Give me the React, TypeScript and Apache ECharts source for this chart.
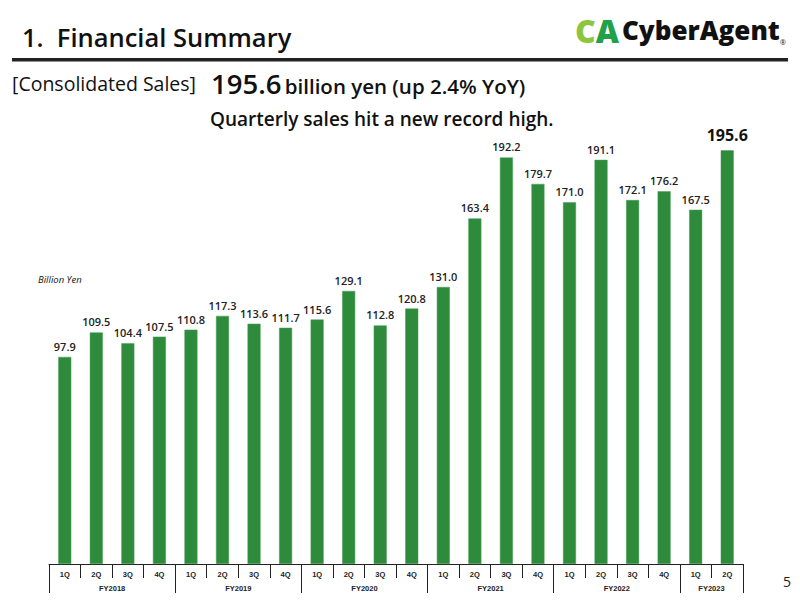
import React, { useEffect, useRef } from "react";
import * as echarts from "echarts";

// Quarterly consolidated sales, billion yen
const quarters = [
  "1Q", "2Q", "3Q", "4Q",
  "1Q", "2Q", "3Q", "4Q",
  "1Q", "2Q", "3Q", "4Q",
  "1Q", "2Q", "3Q", "4Q",
  "1Q", "2Q", "3Q", "4Q",
  "1Q", "2Q",
];
const sales = [
  97.9, 109.5, 104.4, 107.5,
  110.8, 117.3, 113.6, 111.7,
  115.6, 129.1, 112.8, 120.8,
  131.0, 163.4, 192.2, 179.7,
  171.0, 191.1, 172.1, 176.2,
  167.5, 195.6,
];
const fiscalYears = ["FY2018", "FY2019", "FY2020", "FY2021", "FY2022", "FY2023"];
const quartersPerYear = [4, 4, 4, 4, 4, 2];

const FONT = "'Open Sans', 'Noto Sans', sans-serif";
const AXIS_FONT = "Arial, 'Liberation Sans', sans-serif";
const BAR = "#2e8b3c";

export default function App() {
  const ref = useRef<HTMLDivElement>(null);

  useEffect(() => {
    if (!ref.current) return;
    const chart = echarts.init(ref.current, undefined, { renderer: "svg" });

    // year boundaries and centers on a 0..N value scale
    const bounds: number[] = [0];
    const centers: number[] = [];
    quartersPerYear.forEach((n) => {
      const start = bounds[bounds.length - 1];
      centers.push(start + n / 2);
      bounds.push(start + n);
    });
    const total = bounds[bounds.length - 1];

    const lastIdx = sales.length - 1;
    const data = sales.map((v, i) =>
      i === lastIdx
        ? {
            value: v,
            label: { fontSize: 16, fontWeight: 700, distance: 7, color: "#111" },
          }
        : v
    );

    chart.setOption({
      animation: false,
      backgroundColor: "#ffffff",
      grid: { left: 49, right: 57, top: 141, bottom: 36 },
      xAxis: [
        {
          type: "category",
          data: quarters,
          position: "bottom",
          axisLine: { show: true, lineStyle: { color: "#222", width: 1 } },
          axisTick: { show: true, interval: 0, length: 14, lineStyle: { color: "#222" } },
          axisLabel: {
            interval: 0,
            margin: 6,
            fontSize: 7.5,
            fontWeight: 700,
            color: "#222",
            fontFamily: AXIS_FONT,
          },
        },
        {
          type: "value",
          min: 0,
          max: total,
          position: "bottom",
          axisLine: { show: false },
          splitLine: { show: false },
          axisTick: {
            show: true,
            length: 29,
            customValues: bounds,
            lineStyle: { color: "#222" },
          },
          axisLabel: {
            show: true,
            margin: 20,
            customValues: centers,
            fontSize: 7.5,
            fontWeight: 700,
            color: "#222",
            fontFamily: AXIS_FONT,
            formatter: (val: number) => {
              const k = centers.findIndex((c) => Math.abs(c - val) < 1e-6);
              return k >= 0 ? fiscalYears[k] : "";
            },
          },
        },
      ],
      yAxis: {
        type: "value",
        min: 0,
        max: 200,
        show: false,
        splitLine: { show: false },
      },
      series: [
        {
          type: "bar",
          xAxisIndex: 0,
          data,
          barWidth: 13,
          itemStyle: { color: BAR, borderColor: "#4a9d56", borderWidth: 0.5 },
          label: {
            show: true,
            position: "top",
            distance: 5,
            fontSize: 11,
            fontWeight: 600,
            color: "#222",
            fontFamily: FONT,
            formatter: (p: any) => Number(p.value).toFixed(1),
          },
        },
      ],
      graphic: [
        {
          type: "text",
          left: 22,
          top: 24,
          style: {
            text: "1.  Financial Summary",
            fontSize: 25.5,
            fontWeight: 600,
            fontFamily: FONT,
            fill: "#111",
          },
        },
        {
          type: "rect",
          shape: { x: 12, y: 58, width: 776, height: 3.5 },
          style: { fill: "#222" },
        },
        // logo
        {
          type: "text",
          left: 575,
          top: 14,
          style: {
            text: "{c|C}{a|A}",
            rich: {
              c: { fontSize: 32, fontWeight: 800, fill: "#8cc63f", fontFamily: FONT },
              a: { fontSize: 32, fontWeight: 800, fill: "#23a04a", fontFamily: FONT },
            },
          },
        },
        {
          type: "text",
          left: 622,
          top: 17,
          style: {
            text: "CyberAgent",
            fontSize: 26,
            fontWeight: 800,
            fontFamily: FONT,
            fill: "#111",
          },
        },
        {
          type: "text",
          left: 780,
          top: 39,
          style: { text: "®", fontSize: 7, fill: "#111", fontFamily: FONT },
        },
        {
          type: "text",
          left: 12,
          top: 73,
          style: {
            text: "[Consolidated Sales]",
            fontSize: 19.5,
            fontWeight: 500,
            fontFamily: FONT,
            fill: "#111",
          },
        },
        {
          type: "text",
          left: 211,
          top: 69,
          style: {
            text: "{big|195.6} {mid|billion yen (up 2.4% YoY)}",
            rich: {
              big: { fontSize: 27.5, fontWeight: 600, fontFamily: FONT, fill: "#111" },
              mid: { fontSize: 20.5, fontWeight: 600, fontFamily: FONT, fill: "#111", padding: [5, 0, 0, 0] },
            },
          },
        },
        {
          type: "text",
          left: 210,
          top: 109,
          style: {
            text: "Quarterly sales hit a new record high.",
            fontSize: 19,
            fontWeight: 600,
            fontFamily: FONT,
            fill: "#111",
          },
        },
        {
          type: "text",
          left: 38,
          top: 274,
          style: {
            text: "Billion Yen",
            fontSize: 9.5,
            fontStyle: "italic",
            fontWeight: 500,
            fontFamily: FONT,
            fill: "#111",
          },
        },
        {
          type: "text",
          left: 783,
          top: 574,
          style: { text: "5", fontSize: 14, fontFamily: FONT, fill: "#222" },
        },
      ],
    });

    return () => chart.dispose();
  }, []);

  return <div ref={ref} style={{ width: 800, height: 600, position: "absolute", left: 0, top: 0 }} />;
}
